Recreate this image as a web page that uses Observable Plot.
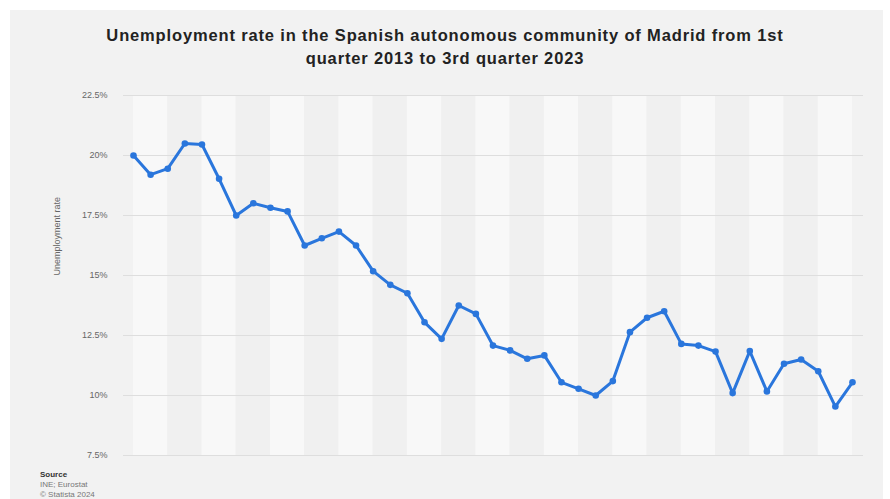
<!DOCTYPE html>
<html>
<head>
<meta charset="utf-8">
<script src="https://cdn.jsdelivr.net/npm/d3@7"></script>
<script src="https://cdn.jsdelivr.net/npm/@observablehq/plot@0.6"></script>
<style>
  html, body { margin: 0; padding: 0; background: #ffffff; }
  body { width: 890px; height: 499px; overflow: hidden; position: relative; font-family: "Liberation Sans", Arial, sans-serif; }
  #card { position: absolute; left: 10px; top: 10px; width: 873px; height: 489px; background: #f2f2f2; }
  #title { position: absolute; left: 0; top: 14px; width: 890px; margin-left: -10px; text-align: center; font-weight: bold; font-size: 16.5px; letter-spacing: 0.85px; line-height: 23px; color: #222; }
  #chart { position: absolute; left: 0; top: 70px; }
  #source { position: absolute; left: 30px; top: 460px; font-size: 8px; line-height: 10px; color: #777; }
  #source b { color: #333; }
</style>
</head>
<body>
<div id="card">
  <div id="title">Unemployment rate in the Spanish autonomous community of Madrid from 1st<br>quarter 2013 to 3rd quarter 2023</div>
  <div id="chart"></div>
  <div id="source"><b>Source</b><br>INE; Eurostat<br>© Statista 2024</div>
</div>
<script>
const quarters = [
  "Q1 2013","Q2 2013","Q3 2013","Q4 2013",
  "Q1 2014","Q2 2014","Q3 2014","Q4 2014",
  "Q1 2015","Q2 2015","Q3 2015","Q4 2015",
  "Q1 2016","Q2 2016","Q3 2016","Q4 2016",
  "Q1 2017","Q2 2017","Q3 2017","Q4 2017",
  "Q1 2018","Q2 2018","Q3 2018","Q4 2018",
  "Q1 2019","Q2 2019","Q3 2019","Q4 2019",
  "Q1 2020","Q2 2020","Q3 2020","Q4 2020",
  "Q1 2021","Q2 2021","Q3 2021","Q4 2021",
  "Q1 2022","Q2 2022","Q3 2022","Q4 2022",
  "Q1 2023","Q2 2023","Q3 2023"
];
const rates = [
  20.0, 19.2, 19.45, 20.5, 20.46, 19.03, 17.5, 18.01, 17.82, 17.67,
  16.25, 16.55, 16.83, 16.25, 15.18, 14.61, 14.26, 13.05, 12.36, 13.75,
  13.40, 12.08, 11.88, 11.53, 11.67, 10.55, 10.28, 10.0, 10.6, 12.64,
  13.24, 13.51, 12.15, 12.08, 11.83, 10.1, 11.85, 10.17, 11.32, 11.5,
  11.01, 9.54, 10.55
];
const yTicks = [7.5, 10, 12.5, 15, 17.5, 20, 22.5];
const yTickLabels = ["7.5%", "10%", "12.5%", "15%", "17.5%", "20%", "22.5%"];

const data = quarters.map((q, i) => ({ q, i, v: rates[i] }));
const bands = d3.range(0, quarters.length - 1, 2).map((s, k) => ({ x1: s, x2: s + 2, k }));

const n = quarters.length - 1;
const chart = Plot.plot({
  width: 873,
  height: 380,
  marginLeft: 113,
  marginRight: 20,
  marginTop: 15,
  marginBottom: 5,
  style: { background: "transparent", fontFamily: "Liberation Sans, Arial, sans-serif" },
  x: { domain: [-0.584, n + 0.643], axis: null },
  y: { domain: [7.5, 22.5], axis: null },
  marks: [
    Plot.rect(bands, {
      x1: "x1", x2: "x2", y1: 7.5, y2: 22.5,
      fill: d => d.k % 2 === 0 ? "#f8f8f8" : "#f0f0f0"
    }),
    Plot.ruleY(yTicks, { stroke: "#dedede", strokeWidth: 1 }),
    Plot.axisY({
      ticks: yTicks,
      tickFormat: (d) => yTickLabels[yTicks.indexOf(d)],
      tickSize: 0,
      tickPadding: 16,
      fontSize: 9,
      color: "#666",
      label: null
    }),
    Plot.text(["Unemployment rate"], {
      frameAnchor: "left", dx: -66, rotate: -90,
      fontSize: 9, fill: "#666"
    }),
    Plot.line(data, { x: "i", y: "v", stroke: "#2a76dc", strokeWidth: 3, strokeLinejoin: "round" }),
    Plot.dot(data, { x: "i", y: "v", r: 3.3, fill: "#2a76dc", stroke: "none" })
  ]
});
document.getElementById("chart").appendChild(chart);
</script>
</body>
</html>
